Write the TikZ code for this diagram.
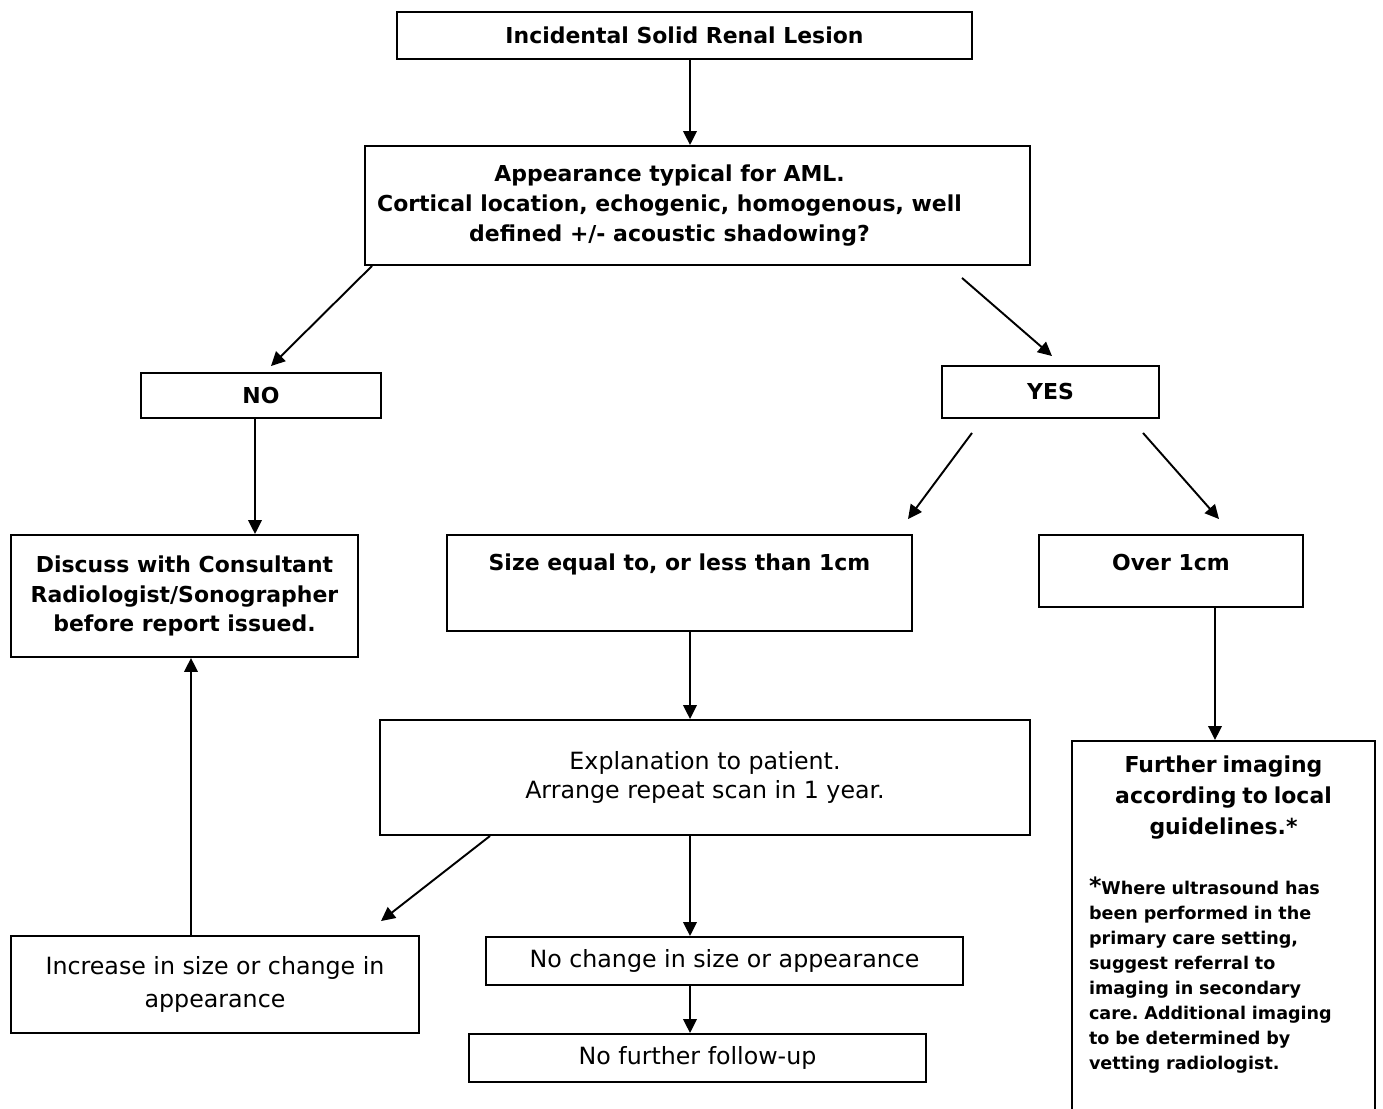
\documentclass[tikz,border=0pt]{standalone}
\usepackage{fontspec}
\setmainfont{DejaVu Sans}
\usetikzlibrary{calc}
\usetikzlibrary{arrows.meta}
\frenchspacing

\begin{document}
\begin{tikzpicture}[x=0.02cm, y=-0.02cm,
    box/.style={draw=black, line width=1.1pt, rectangle, inner sep=2pt, align=center},
    boldtext/.style={font=\fontsize{12.5}{17}\selectfont\bfseries},
    plaintext/.style={font=\fontsize{13.5}{17}\selectfont},
    arr/.style={black, line width=1.1pt, -{Triangle[length=0.28cm, width=0.27cm]}}]
    \useasboundingbox (0,0) rectangle (1383,1109);
    \clip (0,0) rectangle (1383,1109);
    %
    \node[box, boldtext, minimum width=11.5cm, minimum height=0.94cm] (lesion) at (684.5,35.5) {Incidental Solid Renal Lesion};
    \node[box, boldtext, minimum width=13.3cm, minimum height=2.38cm] (aml) at (697.5,205.5) {Appearance typical for AML.\kern1.12cm\\Cortical location, echogenic, homogenous, well\kern1.12cm\\defined +/- acoustic shadowing?\kern1.12cm};
    \node[box, boldtext, minimum width=4.8cm, minimum height=0.9cm] (no) at (261,395.5) {NO};
    \node[box, boldtext, minimum width=4.34cm, minimum height=1.04cm] (yes) at (1050.5,392) {YES};
    %
    \node[box, boldtext, minimum width=6.94cm, minimum height=2.44cm] (discuss) at (184.5,596) {Discuss with Consultant\\Radiologist/Sonographer\\before report issued.};
    \node[box, boldtext, minimum width=9.3cm, minimum height=1.92cm, text depth=0.82cm] (small) at (679.5,583) {Size equal to, or less than 1cm};
    \node[box, boldtext, minimum width=5.28cm, minimum height=1.44cm, text depth=0.34cm] (large) at (1171,571) {Over 1cm};
    %
    \node[box, plaintext, minimum width=13cm, minimum height=2.3cm] (explain) at (705,777.5) {Explanation to patient.\\Arrange repeat scan in 1 year.};
    \node[box, anchor=north, text width=5.38cm, inner xsep=0.34cm, inner ysep=0.3cm, text depth=6.9cm] (further) at (1223.5,740)
        {{\centering\fontsize{12.5}{17.6}\selectfont\bfseries Further imaging\\according to local\\guidelines.*\par}
         \vspace{20pt}
         {\raggedright\fontsize{10}{14.2}\selectfont\bfseries{\fontsize{13.5}{14}\selectfont*}Where ultrasound has\\been performed in the\\primary care setting,\\suggest referral to\\imaging in secondary\\care. Additional imaging\\to be determined by\\vetting radiologist.\par}};
    %
    \node[box, plaintext, font=\fontsize{13.5}{18.8}\selectfont, minimum width=8.16cm, minimum height=1.94cm] (increase) at (215,984.5) {Increase in size or change in\\appearance};
    \node[box, plaintext, minimum width=9.54cm, minimum height=0.96cm] (nochange) at (724.5,961) {No change in size or appearance};
    \node[box, plaintext, minimum width=9.14cm, minimum height=0.96cm] (nofollow) at (697.5,1058) {No further follow-up};
    %
    \draw[arr] ($(lesion.south)+(5.5,0)$) -- ($(aml.north)+(-7.5,0)$);
    \draw[arr] ($(aml.south)+(-325.5,0)$) -- ($(no.north)+(10,-6)$);
    \draw[arr] ($(aml.south)+(264.5,12)$) -- ($(yes.north)+(1.5,-9)$);
    \draw[arr] ($(no.south)+(-6,0)$) -- ($(discuss.north)+(70.5,0)$);
    \draw[arr] ($(yes.south)+(-78.5,14)$) -- ($(small.north)+(228.5,-15)$);
    \draw[arr] ($(yes.south)+(92.5,14)$) -- ($(large.north)+(48,-15)$);
    \draw[arr] ($(small.south)+(10.5,0)$) -- ($(explain.north)+(-15,0)$);
    \draw[arr] ($(large.south)+(44,0)$) -- ($(further.north)+(-8.5,0)$);
    \draw[arr] ($(explain.south)+(-215,0)$) -- ($(increase.north)+(166,-14)$);
    \draw[arr] ($(explain.south)+(-15,0)$) -- ($(nochange.north)+(-34.5,0)$);
    \draw[arr] ($(nochange.south)+(-34.5,0)$) -- ($(nofollow.north)+(-7.5,0)$);
    \draw[arr] ($(increase.north)+(-24,0)$) -- ($(discuss.south)+(6.5,0)$);
\end{tikzpicture}
\end{document}
